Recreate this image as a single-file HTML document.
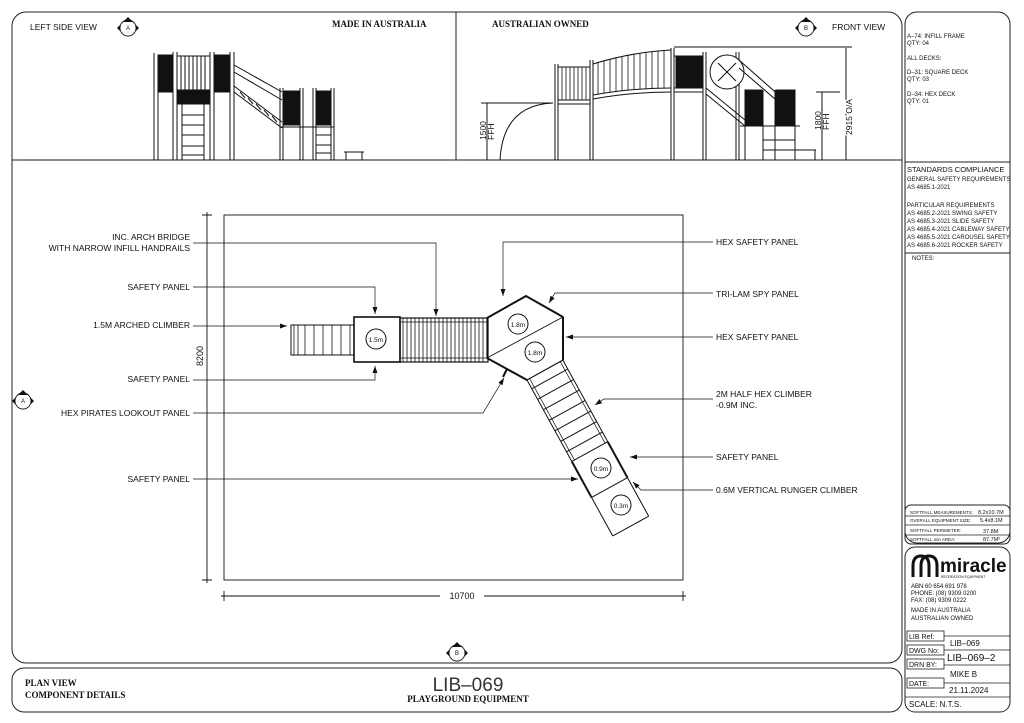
<!DOCTYPE html>
<html><head><meta charset="utf-8"><style>
html,body{margin:0;padding:0;background:#fff;}
svg{display:block;font-family:"Liberation Sans",sans-serif;}
.t{font-size:8.5px;fill:#111;}
.s{font-size:6px;fill:#111;}
.b{font-family:"Liberation Serif",serif;font-weight:bold;font-size:9px;fill:#111;}
</style></head><body>
<svg width="1024" height="723" viewBox="0 0 1024 723" xmlns="http://www.w3.org/2000/svg">
<defs>
<marker id="ar" markerWidth="8" markerHeight="8" refX="7" refY="4" orient="auto" markerUnits="userSpaceOnUse"><path d="M0,1.5 L7,4 L0,6.5z" fill="#111"/></marker>
<g id="mk"><circle r="8" fill="#fff" stroke="#111" stroke-width="0.9"/><path d="M-5,-6 L0,-11 L5,-6z M-8,-3 L-11,0 L-8,3z M8,-3 L11,0 L8,3z" fill="#111"/></g>
</defs>
<g fill="none" stroke="#222" stroke-width="1">
<rect x="12" y="12" width="890" height="651" rx="14"/>
<line x1="12" y1="160" x2="902" y2="160"/>
<line x1="456" y1="12" x2="456" y2="160"/>
<rect x="12" y="668" width="890" height="44" rx="12"/>
<rect x="905" y="12" width="105" height="531" rx="12"/>
<line x1="905" y1="162" x2="1010" y2="162"/>
<line x1="905" y1="253" x2="1010" y2="253"/>
<rect x="905" y="505" width="105" height="39" rx="6"/>
<rect x="905" y="547" width="105" height="165" rx="10"/>
</g>
<g stroke="#222" stroke-width="0.7"><line x1="905" y1="516" x2="1010" y2="516"/><line x1="905" y1="525" x2="1010" y2="525"/><line x1="905" y1="535" x2="1010" y2="535"/></g>
<g class="s"><text x="910" y="514" font-size="4.5">SOFTFALL MEASUREMENTS:</text><text x="978" y="514" font-size="5.5">8.2x10.7M</text>
<text x="910" y="522" font-size="4.5">OVERALL EQUIPMENT SIZE:</text><text x="980" y="522" font-size="5.5">5.4x8.1M</text>
<text x="910" y="532" font-size="4.5">SOFTFALL PERIMETER:</text><text x="983" y="533" font-size="5.5">37.8M</text>
<text x="910" y="541" font-size="4.5">SOFTFALL min AREA:</text><text x="983" y="541" font-size="5.5">87.7M²</text></g>
<g class="s"><text x="907" y="38">A–74: INFILL FRAME</text><text x="907" y="45">QTY: 04</text>
<text x="907" y="60">ALL DECKS:</text><text x="907" y="74">D–31: SQUARE DECK</text><text x="907" y="81">QTY: 03</text>
<text x="907" y="96">D–34: HEX DECK</text><text x="907" y="103">QTY: 01</text>
<text x="907" y="172" font-size="7.5">STANDARDS COMPLIANCE</text><text x="907" y="181">GENERAL SAFETY REQUIREMENTS</text><text x="907" y="189">AS 4685.1-2021</text>
<text x="907" y="207">PARTICULAR REQUIREMENTS</text><text x="907" y="215">AS 4685.2-2021 SWING SAFETY</text><text x="907" y="223">AS 4685.3-2021 SLIDE SAFETY</text><text x="907" y="231">AS 4685.4-2021 CABLEWAY SAFETY</text><text x="907" y="239">AS 4685.5-2021 CAROUSEL SAFETY</text><text x="907" y="247">AS 4685.6-2021 ROCKER SAFETY</text>
<text x="912" y="260">NOTES:</text>
<text x="911" y="588">ABN 60 654 691 978</text><text x="911" y="595">PHONE: (08) 9309 0200</text><text x="911" y="602">FAX:    (08) 9309 0222</text>
<text x="911" y="612">MADE IN AUSTRALIA</text><text x="911" y="620">AUSTRALIAN OWNED</text></g>
<path d="M913,577 L913,566 Q913,556 921,556 Q929,556 929,566 L929,577 M921,577 L921,566 Q921,556 929,556 Q937,556 937,566 L937,577" fill="none" stroke="#111" stroke-width="3"/>
<text x="940" y="572" font-size="19" font-weight="bold" fill="#111">miracle</text>
<text x="941" y="578" font-size="3.5" fill="#111">RECREATION EQUIPMENT</text>
<g fill="none" stroke="#222" stroke-width="0.8">
<rect x="907" y="631" width="37" height="10"/><rect x="907" y="645" width="37" height="10"/><rect x="907" y="659" width="37" height="10"/><rect x="907" y="678" width="37" height="10"/>
<line x1="944" y1="636" x2="1010" y2="636"/><line x1="944" y1="650" x2="1010" y2="650"/><line x1="944" y1="665" x2="1010" y2="665"/><line x1="944" y1="683" x2="1010" y2="683"/><line x1="905" y1="697" x2="1010" y2="697"/>
</g>
<g class="s"><text x="909" y="639" font-size="7">LIB Ref:</text><text x="909" y="653" font-size="7">DWG No:</text><text x="909" y="667" font-size="7">DRN BY:</text><text x="909" y="686" font-size="7">DATE:</text>
<text x="950" y="646" font-size="8">LIB–069</text><text x="947" y="661" font-size="10">LIB–069–2</text><text x="950" y="677" font-size="8">MIKE B</text><text x="949" y="693" font-size="8">21.11.2024</text><text x="909" y="707" font-size="8">SCALE: N.T.S.</text></g>
<text class="t" x="30" y="30">LEFT SIDE VIEW</text>
<text class="b" x="332" y="27">MADE IN AUSTRALIA</text>
<text class="b" x="492" y="27">AUSTRALIAN OWNED</text>
<text class="t" x="832" y="30">FRONT VIEW</text>
<use href="#mk" x="128" y="28"/><use href="#mk" x="806" y="28"/><use href="#mk" x="23" y="401"/><use href="#mk" x="457" y="653"/>
<g font-size="6" fill="#111" text-anchor="middle"><text x="128" y="30">A</text><text x="806" y="30">B</text><text x="23" y="403">A</text><text x="457" y="655">B</text></g>
<text class="b" x="25" y="686">PLAN VIEW</text><text class="b" x="25" y="698">COMPONENT DETAILS</text>
<text x="468" y="691" font-size="19" fill="#333" text-anchor="middle">LIB–069</text>
<text class="b" x="468" y="702" font-size="7.5" text-anchor="middle">PLAYGROUND EQUIPMENT</text>
<g stroke="#111" stroke-width="1" fill="none">
<path d="M154,160V53 M158,160V55 M173,160V52 M177,160V52 M210,160V52 M214,160V52 M230,160V52 M234,160V52"/>
<rect x="158" y="55" width="15" height="37" fill="#111"/><rect x="214" y="55" width="16" height="37" fill="#111"/>
<rect x="177" y="90" width="33" height="14" fill="#111"/>
<path d="M177,56H210 M181,56V90 M185,56V90 M189,56V90 M193,56V90 M197,56V90 M201,56V90 M205,56V90"/>
<path d="M182,104V160 M204,104V160 M182,115H204 M182,125H204 M182,135H204 M182,146H204 M182,155H204"/>
<path d="M234,65L282,92 M234,72L282,100 M234,86L282,122 M234,92L282,128"/>
<path d="M240,92l5,6 M248,98l5,6 M256,104l5,6 M264,110l5,6 M272,116l5,6" />
<path d="M280,160V88 M283,160V88 M300,160V88 M303,160V88 M313,160V88 M316,160V88 M331,160V88 M334,160V88"/>
<rect x="284" y="91" width="15" height="34" fill="#111"/><rect x="317" y="91" width="14" height="34" fill="#111"/>
<path d="M280,127H334 M316,135H331 M316,145H331 M316,153H331 M344,152H364 M346,152V160 M362,152V160"/>
<line x1="20" y1="160" x2="450" y2="160"/>
</g>
<g stroke="#111" stroke-width="1" fill="none">
<path d="M555,160V64 M558,160V64 M590,160V60 M593,160V60 M671,160V48 M674,160V48 M703,160V52 M706,160V52 M736,160V52 M739,160V52 M745,160V90 M763,160V90 M775,160V90 M795,160V90"/>
<path d="M558,67H590 M558,100H590 M558,104H590"/>
<g stroke-width="0.8"><path d="M562,67V100 M566,67V100 M570,67V100 M574,67V100 M578,67V100 M582,67V100 M586,67V100"/></g>
<path d="M593,64Q632,52 671,50 M593,95Q632,88 671,88 M593,99Q632,92 671,92"/>
<g stroke-width="0.8"><path d="M598,63V94 M604,61V93 M610,59V92 M616,58V91 M622,56V90 M628,55V90 M634,54V89 M640,53V89 M646,52V89 M652,52V88 M658,51V88 M664,51V88"/></g>
<path d="M674,56H703 M674,88H703 M674,92H703"/><rect x="676" y="57" width="27" height="31" fill="#111"/>
<circle cx="727" cy="72" r="17" fill="#fff"/><path d="M718,63l18,18 M736,63l-18,18"/>
<path d="M739,60L790,105 M739,68L790,112 M706,88L745,120 M706,94L745,126"/>
<rect x="745" y="90" width="17" height="35" fill="#111"/><rect x="776" y="90" width="19" height="35" fill="#111"/>
<path d="M740,126H800 M763,140H795 M763,150H795 M790,150H816 M815,150V160"/>
<path d="M500,160Q503,105 553,103"/>
<path d="M487,103V160 M481,103H553 M822,92V160 M816,92H840 M846,48V160 M674,47H852"/>
<line x1="460" y1="160" x2="896" y2="160"/>
</g>
<g font-size="8.5" fill="#111"><text transform="translate(486,140) rotate(-90)">1500</text><text transform="translate(494,140) rotate(-90)">FFH</text>
<text transform="translate(821,130) rotate(-90)">1800</text><text transform="translate(829,130) rotate(-90)">FFH</text>
<text transform="translate(852,135) rotate(-90)" fill="#fff" stroke="#fff" stroke-width="3">2915 O/A</text><text transform="translate(852,135) rotate(-90)">2915 O/A</text></g>
<g stroke="#111" fill="none" stroke-width="0.9">
<rect x="224" y="215" width="459" height="365"/>
<path d="M207,212V583 M202,215H212 M202,580H212 M221,596H686 M224,591V601 M683,591V601"/>
</g>
<text font-size="9" fill="#111" text-anchor="middle" transform="translate(203,356) rotate(-90)">8200</text>
<rect x="440" y="590" width="44" height="12" fill="#fff"/><text x="462" y="599" font-size="9" fill="#111" text-anchor="middle">10700</text>
<g stroke="#111" fill="none">
<rect x="291" y="325" width="63" height="30" stroke-width="1"/>
<path d="M294,325V355 M298,325V355 M305,325V355 M314,325V355 M323,325V355 M332,325V355 M341,325V355 M350,325V355" stroke-width="0.8"/>
<rect x="354" y="317" width="46" height="45" stroke-width="1.6" fill="#fff"/>
<circle cx="376" cy="339" r="10"/>
<rect x="400" y="318" width="88" height="44" stroke-width="1.2"/>
<path d="M400,322H488 M400,358H488" stroke-width="0.8"/>
<g stroke-width="0.8"><path d="M403,318V362 M407,318V362 M411,318V362 M415,318V362 M419,318V362 M423,318V362 M427,318V362 M431,318V362 M435,318V362 M439,318V362 M443,318V362 M447,318V362 M451,318V362 M455,318V362 M459,318V362 M463,318V362 M467,318V362 M471,318V362 M475,318V362 M479,318V362 M483,318V362"/></g>
<path d="M487,318L526,296L563,317L563,360L527,380L487,358Z" stroke-width="1.2"/>
<path d="M487,318L526,296L563,317 M563,317V360 M487,358L527,380" stroke-width="2"/>
<path d="M487,358L563,317" stroke-width="0.9"/>
<circle cx="518" cy="324" r="10"/><circle cx="535" cy="352" r="10"/>
<g transform="translate(527,380) rotate(61.2)">
<path d="M0,0H178 M0,-41H178 M93,0V-41 M134,0V-41 M178,0V-41" stroke-width="1"/>
<path d="M0,-3H93 M0,-38H93" stroke-width="0.7"/>
<path d="M10,0V-41 M22,0V-41 M34,0V-41 M46,0V-41 M58,0V-41 M70,0V-41 M82,0V-41" stroke-width="1"/>
<path d="M93,0H134 M93,-41H134" stroke-width="2"/>
</g>
<circle cx="601" cy="468" r="10" fill="#fff"/><circle cx="621" cy="505" r="10" fill="#fff"/>
<path d="M503,377l4,-8" stroke-width="2"/>
</g>
<g font-size="6.5" fill="#111" text-anchor="middle"><text x="376" y="342">1.5m</text><text x="518" y="327">1.8m</text><text x="535" y="355">1.8m</text><text x="601" y="471">0.9m</text><text x="621" y="508">0.3m</text></g>
<g stroke="#111" stroke-width="0.7" fill="none">
<path d="M193,243H436V316" marker-end="url(#ar)"/>
<path d="M193,287H375V314" marker-end="url(#ar)"/>
<path d="M193,326H287" marker-end="url(#ar)"/>
<path d="M193,380H375V366" marker-end="url(#ar)"/>
<path d="M193,413H483L504,378" marker-end="url(#ar)"/>
<path d="M193,479H578" marker-end="url(#ar)"/>
<path d="M713,242H503V296" marker-end="url(#ar)"/>
<path d="M713,293H555L549,303" marker-end="url(#ar)"/>
<path d="M713,337H566" marker-end="url(#ar)"/>
<path d="M713,399H604L595,405" marker-end="url(#ar)"/>
<path d="M713,457H630" marker-end="url(#ar)"/>
<path d="M713,490H641L633,482" marker-end="url(#ar)"/>
</g>
<g class="t" text-anchor="end"><text x="190" y="240">INC. ARCH BRIDGE</text><text x="190" y="251">WITH NARROW INFILL HANDRAILS</text>
<text x="190" y="290">SAFETY PANEL</text><text x="190" y="328">1.5M ARCHED CLIMBER</text><text x="190" y="382">SAFETY PANEL</text>
<text x="190" y="416">HEX PIRATES LOOKOUT PANEL</text><text x="190" y="482">SAFETY PANEL</text></g>
<g class="t"><text x="716" y="245">HEX SAFETY PANEL</text><text x="716" y="297">TRI-LAM SPY PANEL</text><text x="716" y="340">HEX SAFETY PANEL</text>
<text x="716" y="397">2M HALF HEX CLIMBER</text><text x="716" y="408">-0.9M INC.</text><text x="716" y="460">SAFETY PANEL</text><text x="716" y="493">0.6M VERTICAL RUNGER CLIMBER</text></g>
</svg>
</body></html>
